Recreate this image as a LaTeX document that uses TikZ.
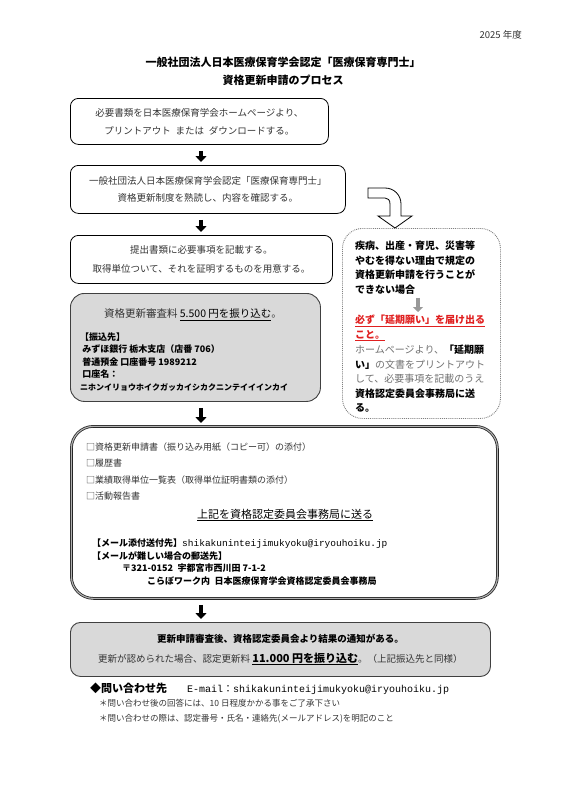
\documentclass[tikz,border=0pt]{standalone}
\usepackage{fontspec}
\setmainfont{Noto Sans CJK JP}
\setmonofont{Liberation Mono}
\usepackage{xcolor}
\usetikzlibrary{positioning,arrows.meta}

\definecolor{boxgray}{HTML}{D9D9D9}
\definecolor{inkgray}{HTML}{404040}
\definecolor{minchogray}{HTML}{333333}
\definecolor{alertred}{HTML}{E02020}
\newcommand{\fsz}[2]{\fontsize{#1}{#2}\selectfont}

\begin{document}
\begin{tikzpicture}[
x=1pt, y=-1pt,
flowbox/.style={draw=black, line width=0.8pt, rounded corners=8pt, align=center, inner sep=0pt, anchor=north west, text=minchogray},
paybox/.style={draw=inkgray, fill=boxgray, line width=0.9pt, rounded corners=14pt, inner sep=0pt, anchor=north west},
notebox/.style={draw=gray, densely dotted, line width=0.9pt, rounded corners=20pt, inner sep=0pt, anchor=north west},
sendbox/.style={draw=black!85, double=gray!60, double distance=1.1pt, line width=0.8pt, rounded corners=22pt, inner sep=0pt, anchor=north west},
txt/.style={inner sep=0pt, align=left, anchor=north west},
flowarrow/.style={-{Triangle[width=11pt,length=6pt]}, line width=4.5pt, black, shorten <=6pt, shorten >=3pt},
grayarrow/.style={-{Triangle[width=10pt,length=5pt]}, line width=4pt, gray!80, shorten <=3pt, shorten >=3pt}
]
\useasboundingbox (0,0) rectangle (565,800);

% heading
\node[inner sep=0pt, anchor=east, font=\fsz{9.5}{12}, text=minchogray] (year) at (522,35) {2025 年度};
\node[inner sep=0pt, align=center, font=\bfseries\fsz{11}{18}] (title) at (283,71) {一般社団法人日本医療保育学会認定「医療保育専門士」\\資格更新申請のプロセス};

% main flow
\node[flowbox, minimum width=258pt, minimum height=46pt, font=\fsz{9.5}{18}] (fetch) at (70,98)
  {必要書類を日本医療保育学会ホームページより、\\プリントアウト\enspace または\enspace ダウンロードする。};
\node[flowbox, minimum width=275pt, minimum height=48pt, font=\fsz{9.5}{17.5}] (read) at (70,165)
  {一般社団法人日本医療保育学会認定「医療保育専門士」\\資格更新制度を熟読し、内容を確認する。};
\node[flowbox, minimum width=262pt, minimum height=48pt, font=\fsz{9.5}{19.5}] (fill) at (70,235)
  {提出書類に必要事項を記載する。\\取得単位ついて、それを証明するものを用意する。};

\node[paybox, minimum width=250pt, minimum height=108pt] (fee) at (70,293) {};
\node[inner sep=0pt, font=\fsz{10.5}{12}, text=minchogray] (feetitle) at (193,315)
  {資格更新審査料 {\color{black}\underline{5.500 円を振り込む}}。};
\node[txt, font=\bfseries\fsz{9}{12.5}] (feeinfo) at (80,332.5)
  {【振込先】\\
   \ みずほ銀行 栃木支店（店番 706）\\
   \ 普通預金 口座番号 1989212\\
   \ 口座名：\\
   {\fsz{8}{12.5}ニホンイリョウホイクガッカイシカクニンテイイインカイ}};

% delay request
\node[notebox, minimum width=158pt, minimum height=190pt] (delay) at (342,228) {};
\node[txt, font=\bfseries\fsz{10}{14.5}] (cause) at (355,241)
  {疾病、出産・育児、災害等\\やむを得ない理由で規定の\\資格更新申請を行うことが\\できない場合};
\node[txt, font=\bfseries\fsz{10}{14.5}, text=alertred] (notify) at (355,315)
  {\underline{必ず「延期願い」を届け出る}\\\underline{こと。}};
\node[txt, font=\fsz{10}{14.5}, text=minchogray!70] (howto) at (355,345)
  {ホームページより、{\bfseries\color{black}「延期願}\\
   {\bfseries\color{black}い」}の文書をプリントアウト\\
   して、必要事項を記載のうえ\\
   {\bfseries\color{black}資格認定委員会事務局に送}\\
   {\bfseries\color{black}る。}};
\coordinate (gx) at (418,0);
\draw[grayarrow] (gx |- cause.south) -- (gx |- notify.north);

% hollow turn arrow
\draw[line width=0.8pt, fill=white] (368,188) -- (385,188) .. controls (394,188) and (401,195) .. (401,204)
  -- (401,216) -- (412,216) -- (395,228) -- (378,216) -- (390,216) -- (390,204)
  .. controls (390,200) and (388,198) .. (385,198) -- (368,198) -- cycle;

% documents to send
\node[sendbox, minimum width=426pt, minimum height=172pt] (send) at (71,426) {};
\node[txt, font=\fsz{9}{16.5}, text=minchogray] (docs) at (86,442.5)
  {□資格更新申請書（振り込み用紙（コピー可）の添付）\\
   □履歴書\\
   □業績取得単位一覧表（取得単位証明書類の添付）\\
   □活動報告書};
\node[inner sep=0pt, font=\fsz{11}{13}] (sendto) at (285,515)
  {\underline{上記を資格認定委員会事務局に送る}};
\node[txt, font=\bfseries\fsz{9}{12.7}] (mail) at (92,538.5)
  {【メール添付送付先】{\mdseries\ttfamily\fsz{9.5}{12.7}shikakuninteijimukyoku@iryouhoiku.jp}\\
   【メールが難しい場合の郵送先】\\
   \hspace*{30pt}〒321-0152\enspace 宇都宮市西川田 7-1-2\\
   \hspace*{55pt}こらぼワーク内\enspace 日本医療保育学会資格認定委員会事務局};

% result
\node[paybox, rounded corners=10pt, minimum width=420pt, minimum height=54pt] (result) at (70,622) {};
\node[inner sep=0pt, align=center, font=\fsz{9.5}{20}] (resulttext) at (result.center)
  {{\bfseries 更新申請審査後、資格認定委員会より結果の通知がある。}\\
   {\color{minchogray}更新が認められた場合、認定更新料 }{\bfseries\fsz{11}{20}\underline{11.000 円を振り込む}}{\color{minchogray}。（上記振込先と同様）}};

% flow arrows
\coordinate (ax) at (201,0);
\draw[flowarrow] (ax |- fetch.south) -- (ax |- read.north);
\draw[flowarrow] (ax |- read.south) -- (ax |- fill.north);
\draw[flowarrow] (ax |- fee.south) -- (ax |- send.north);
\draw[flowarrow] (ax |- send.south) -- (ax |- result.north);

% contact
\node[inner sep=0pt, anchor=west] (contact) at (90,689)
  {{\bfseries\fsz{11}{14}◆問い合わせ先}\hspace{20pt}{\ttfamily\fsz{10}{14}E-mail}{\fsz{10}{14}：}{\ttfamily\fsz{10}{14}shikakuninteijimukyoku@iryouhoiku.jp}};
\node[txt, font=\fsz{8.5}{15}, text=minchogray] (notes) at (99,699.5)
  {＊問い合わせ後の回答には、10 日程度かかる事をご了承下さい\\
   ＊問い合わせの際は、認定番号・氏名・連絡先(メールアドレス)を明記のこと};
\end{tikzpicture}
\end{document}
